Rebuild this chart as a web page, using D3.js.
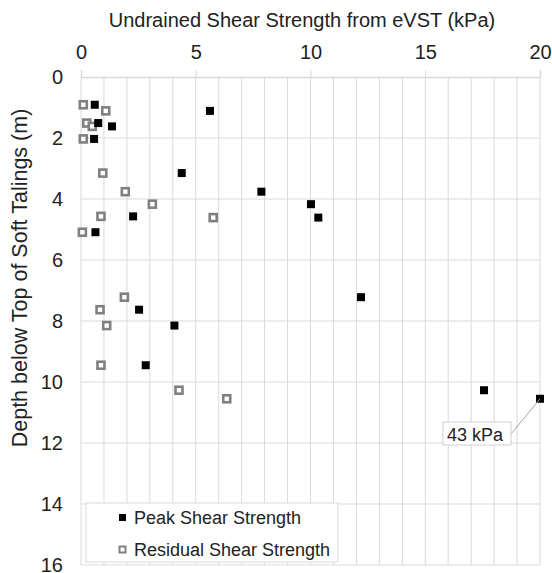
<!DOCTYPE html>
<html>
<head>
<meta charset="utf-8">
<script src="https://cdn.jsdelivr.net/npm/d3@7"></script>
<style>
  body { margin: 0; background: #fff; }
  svg { display: block; font-family: "Liberation Sans", Arial, sans-serif; }
</style>
</head>
<body>
<svg width="552" height="573"></svg>
<script>
// depth of each vane test (m) - peak and residual share the same depths
const depths = [0.91, 1.11, 1.51, 1.62, 2.03, 3.15, 3.76, 4.17, 4.57, 4.61, 5.09, 7.22, 7.63, 8.15, 9.45, 10.27, 10.55];
// peak undrained shear strength (kPa)
const peak = [0.6, 5.62, 0.75, 1.35, 0.57, 4.39, 7.86, 10.02, 2.27, 10.34, 0.63, 12.2, 2.53, 4.07, 2.82, 17.56, 43];
// residual undrained shear strength (kPa)
const residual = [0.1, 1.08, 0.25, 0.49, 0.1, 0.95, 1.93, 3.11, 0.87, 5.76, 0.06, 1.89, 0.83, 1.12, 0.87, 4.27, 6.35];

const xTicks = [0, 5, 10, 15, 20];
const yTicks = [0, 2, 4, 6, 8, 10, 12, 14, 16];

const svg = d3.select('svg');

// scales - x is clamped so the 43 kPa point sits on the edge
const x = d3.scaleLinear().domain([0, 20]).range([81, 540]).clamp(true);
const y = d3.scaleLinear().domain([0, 16]).range([77, 565]);

// vertical grid every 1 kPa
svg.append('g')
  .selectAll('line')
  .data(d3.range(0, 21, 1))
  .enter().append('line')
  .attr('x1', d => x(d)).attr('x2', d => x(d))
  .attr('y1', y(0)).attr('y2', y(16))
  .attr('stroke', '#d9d9d9')
  .attr('stroke-width', 1);

// horizontal grid every 2 m
svg.append('g')
  .selectAll('line')
  .data(yTicks.slice(1))
  .enter().append('line')
  .attr('x1', x(0)).attr('x2', x(20))
  .attr('y1', d => y(d)).attr('y2', d => y(d))
  .attr('stroke', '#d9d9d9')
  .attr('stroke-width', 1);

// top axis
const xAxis = svg.append('g')
  .attr('transform', `translate(0,${y(0)})`)
  .call(d3.axisTop(x).tickValues(xTicks).tickSize(7).tickPadding(11));
xAxis.select('.domain').attr('stroke', '#d9d9d9').attr('stroke-width', 1.5);
xAxis.selectAll('.tick line').attr('stroke', '#d9d9d9');
xAxis.selectAll('text').attr('font-size', 20).attr('fill', '#222').attr('font-family', null);

// left axis (labels only)
const yAxis = svg.append('g')
  .attr('transform', `translate(${x(0)},0)`)
  .call(d3.axisLeft(y).tickValues(yTicks).tickSize(0).tickPadding(18));
yAxis.select('.domain').remove();
yAxis.selectAll('text').attr('font-size', 20).attr('fill', '#222').attr('font-family', null);

// axis titles
svg.append('text')
  .attr('x', 302).attr('y', 27)
  .attr('text-anchor', 'middle')
  .attr('font-size', 20)
  .attr('fill', '#222')
  .text('Undrained Shear Strength from eVST (kPa)');

svg.append('text')
  .attr('transform', 'translate(27,278) rotate(-90)')
  .attr('text-anchor', 'middle')
  .attr('font-size', 21.5)
  .attr('fill', '#222')
  .text('Depth below Top of Soft Talings (m)');

// residual points - hollow grey squares
svg.append('g')
  .selectAll('rect')
  .data(residual)
  .enter().append('rect')
  .attr('x', d => x(d) - 3.5)
  .attr('y', (d, i) => y(depths[i]) - 3.5)
  .attr('width', 7).attr('height', 7)
  .attr('fill', '#fff')
  .attr('stroke', '#808080')
  .attr('stroke-width', 2.6);

// peak points - filled black squares
svg.append('g')
  .selectAll('rect')
  .data(peak)
  .enter().append('rect')
  .attr('x', d => x(d) - 4)
  .attr('y', (d, i) => y(depths[i]) - 4)
  .attr('width', 8).attr('height', 8)
  .attr('fill', '#000');

// callout for the off-scale point
const last = peak.length - 1;
const callout = svg.append('g');
callout.append('line')
  .attr('x1', 511).attr('y1', 434)
  .attr('x2', x(peak[last])).attr('y2', y(depths[last]))
  .attr('stroke', '#a6a6a6').attr('stroke-width', 1);
callout.append('rect')
  .attr('x', 443).attr('y', 422)
  .attr('width', 68).attr('height', 23)
  .attr('fill', '#fff')
  .attr('stroke', '#d0d0d0');
callout.append('text')
  .attr('x', 447).attr('y', 441)
  .attr('font-size', 18)
  .attr('fill', '#222')
  .text(peak[last] + ' kPa');

// legend
const legend = svg.append('g');
legend.append('rect')
  .attr('x', 86).attr('y', 503)
  .attr('width', 252).attr('height', 59)
  .attr('fill', '#fff')
  .attr('stroke', '#d9d9d9');
legend.append('rect')
  .attr('x', 119).attr('y', 514).attr('width', 7).attr('height', 7)
  .attr('fill', '#000');
legend.append('rect')
  .attr('x', 119.5).attr('y', 546.5).attr('width', 6).attr('height', 6)
  .attr('fill', '#fff').attr('stroke', '#808080').attr('stroke-width', 2);
legend.append('text')
  .attr('x', 134).attr('y', 524)
  .attr('font-size', 18).attr('fill', '#222')
  .text('Peak Shear Strength');
legend.append('text')
  .attr('x', 134).attr('y', 556)
  .attr('font-size', 18).attr('fill', '#222')
  .text('Residual Shear Strength');
</script>
</body>
</html>
